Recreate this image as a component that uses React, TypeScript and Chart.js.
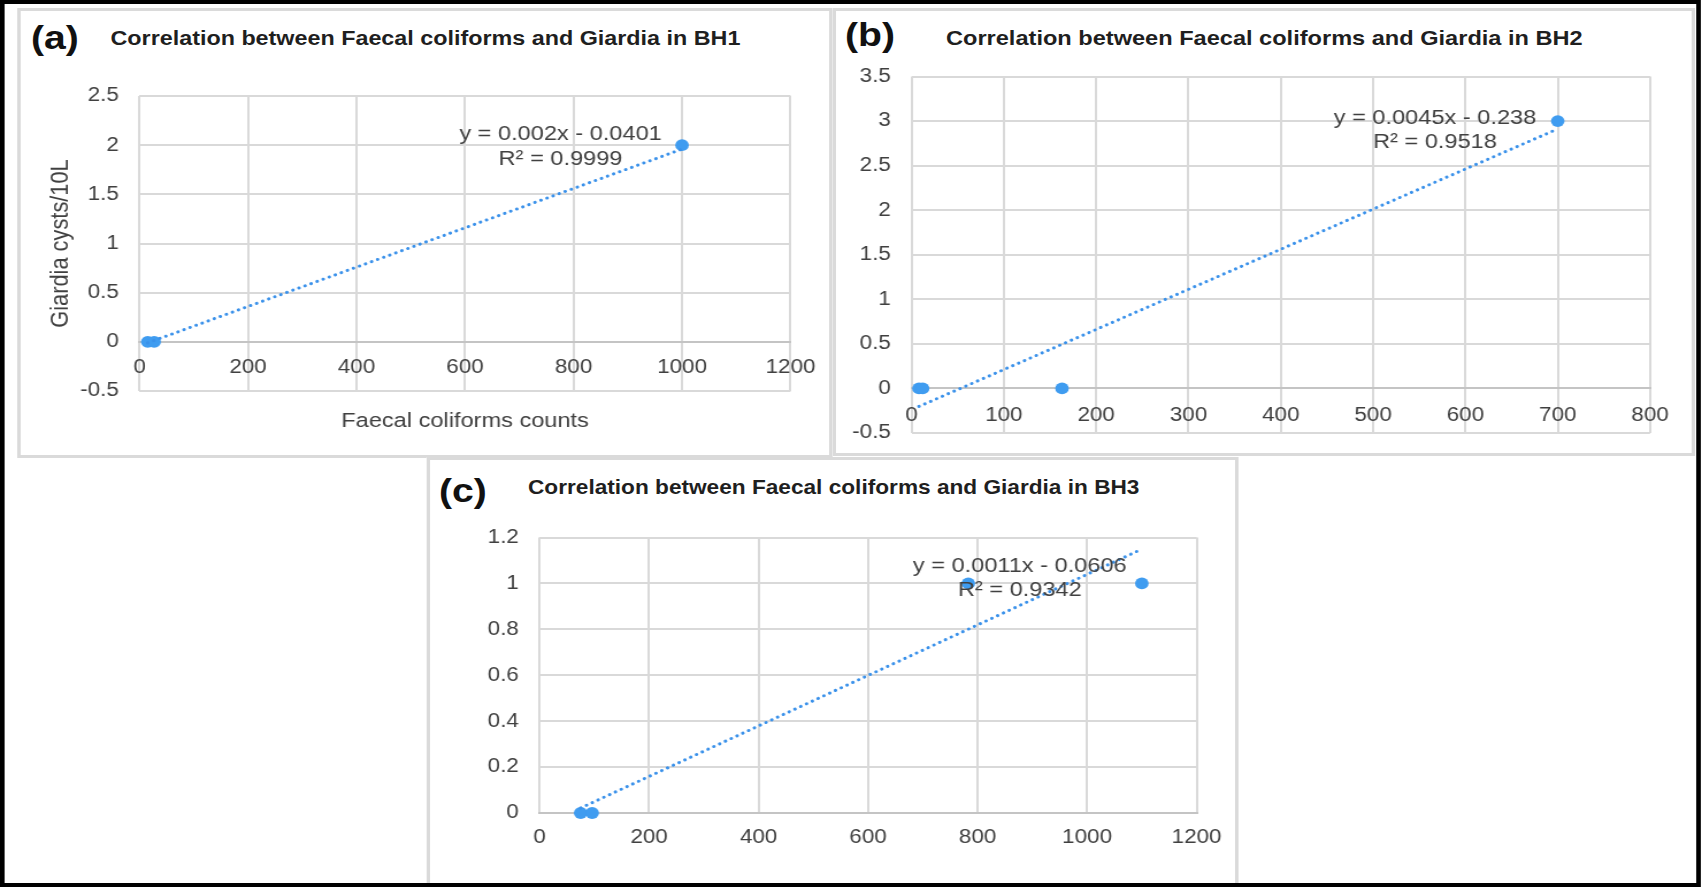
import React, { useEffect, useRef } from "react";
import { Chart, registerables } from "chart.js";

Chart.register(...registerables);

// ---------- data ----------
const bh1Coliforms = [15, 27, 1000];
const bh1Giardia = [0, 0, 2];
const bh1Fit = { slope: 0.002, intercept: -0.0401, r2: 0.9999 };
const bh1XTicks = [0, 200, 400, 600, 800, 1000, 1200];
const bh1YTicks = [-0.5, 0, 0.5, 1, 1.5, 2, 2.5];

const bh2Coliforms = [8, 12, 163, 700];
const bh2Giardia = [0, 0, 0, 3];
const bh2Fit = { slope: 0.0045, intercept: -0.238, r2: 0.9518 };
const bh2XTicks = [0, 100, 200, 300, 400, 500, 600, 700, 800];
const bh2YTicks = [-0.5, 0, 0.5, 1, 1.5, 2, 2.5, 3, 3.5];

const bh3Coliforms = [75, 96, 783, 1100];
const bh3Giardia = [0, 0, 1, 1];
const bh3Fit = { slope: 0.0011, intercept: -0.0606, r2: 0.9342 };
const bh3XTicks = [0, 200, 400, 600, 800, 1000, 1200];
const bh3YTicks = [0, 0.2, 0.4, 0.6, 0.8, 1, 1.2];

const panelLetters = ["(a)", "(b)", "(c)"];
const panelTitles = [
  "Correlation between Faecal coliforms and Giardia in BH1",
  "Correlation between Faecal coliforms and Giardia in BH2",
  "Correlation between Faecal coliforms and Giardia in BH3",
];
const xAxisTitle = "Faecal coliforms counts";
const yAxisTitle = "Giardia cysts/10L";

// ---------- styling ----------
const SX = 1.15; // the figure is drawn horizontally widened by this factor
const FONT = "'Liberation Sans', Arial, Helvetica, sans-serif";
const TICK_SIZE = 19.5;
const TEXT = "#404040";
const GRID = "#d9d9d9";
const AXIS_LINE = "#c4c4c4";
const MARKER = "#3f9cf0";
const TREND = "#3a91ea";
const PANEL_BORDER = "#dadada";
const AXIS_TITLE_SIZE = 20.5;
const Y_TITLE_SIZE = 21.8;
const EQ_SIZE = 20.5;
const EQ_GAP = 24.5;

type Fit = { slope: number; intercept: number; r2: number };

type PanelSpec = {
  letter: string;
  title: string;
  titleSize: number;
  xs: number[];
  ys: number[];
  fit: Fit;
  xTicks: number[];
  yTicks: number[];
  xAtZero: boolean;
  xTitle?: string;
  yTitle?: string;
  box: number[]; // page px: left, top, right, bottom
  canvas: number[]; // page px: left, top, width, height
  plot: number[]; // page px: left, top, right, bottom
  letterAt: number[];
  titleAt: number[];
  equationAt: number[]; // data units
  xLabelPad: number;
  yTitleX?: number;
  xTitleY?: number;
};

const panels: PanelSpec[] = [
  {
    letter: panelLetters[0],
    title: panelTitles[0],
    titleSize: 20.3,
    xs: bh1Coliforms,
    ys: bh1Giardia,
    fit: bh1Fit,
    xTicks: bh1XTicks,
    yTicks: bh1YTicks,
    xAtZero: true,
    xTitle: xAxisTitle,
    yTitle: yAxisTitle,
    box: [17, 8, 833, 458],
    canvas: [20, 11, 810, 475],
    plot: [140, 96, 791, 391],
    letterAt: [31, 37],
    titleAt: [110.5, 37.5],
    equationAt: [776, 2.108],
    xLabelPad: 14.5,
    yTitleX: 61,
    xTitleY: 421.5,
  },
  {
    letter: panelLetters[1],
    title: panelTitles[1],
    titleSize: 20.5,
    xs: bh2Coliforms,
    ys: bh2Giardia,
    fit: bh2Fit,
    xTicks: bh2XTicks,
    yTicks: bh2YTicks,
    xAtZero: true,
    box: [833, 8, 1695, 456],
    canvas: [836, 11, 856, 442],
    plot: [911.5, 76.5, 1650, 433],
    letterAt: [845, 34],
    titleAt: [946, 37.5],
    equationAt: [567, 3.034],
    xLabelPad: 15.3,
  },
  {
    letter: panelLetters[2],
    title: panelTitles[2],
    titleSize: 19.7,
    xs: bh3Coliforms,
    ys: bh3Giardia,
    fit: bh3Fit,
    xTicks: bh3XTicks,
    yTicks: bh3YTicks,
    xAtZero: false,
    box: [427, 457, 1239, 890],
    canvas: [430, 460, 806, 420],
    plot: [539.5, 537.5, 1196.5, 813],
    letterAt: [439, 489.5],
    titleAt: [528, 488],
    equationAt: [877, 1.076],
    xLabelPad: 13.3,
  },
];

function equationLines(fit: Fit): string[] {
  const sign = fit.intercept < 0 ? "-" : "+";
  return [
    `y = ${fit.slope}x ${sign} ${Math.abs(fit.intercept)}`,
    `R\u00B2 = ${fit.r2}`,
  ];
}

// Writes the trendline equation and R² centred on a point given in data units.
const equationLabel = {
  id: "equationLabel",
  afterDatasetsDraw(chart: any, _args: any, opts: any) {
    const { ctx, scales } = chart;
    const cx = scales.x.getPixelForValue(opts.x);
    const cy = scales.y.getPixelForValue(opts.y);
    ctx.save();
    ctx.font = `${EQ_SIZE}px ${FONT}`;
    ctx.fillStyle = TEXT;
    ctx.textAlign = "center";
    ctx.textBaseline = "middle";
    (opts.lines as string[]).forEach((t, i) => ctx.fillText(t, cx, cy + i * EQ_GAP));
    ctx.restore();
  },
};

function ScatterPanel({ spec }: { spec: PanelSpec }) {
  const ref = useRef<HTMLCanvasElement>(null);
  const [cl, ct, cw, ch] = spec.canvas;
  const localW = Math.round(cw / SX);

  useEffect(() => {
    const canvas = ref.current;
    if (!canvas) return;
    const [pl, pt, pr, pb] = spec.plot;
    const yMin = spec.yTicks[0];
    const yMax = spec.yTicks[spec.yTicks.length - 1];
    const xMin = spec.xTicks[0];
    const xMax = spec.xTicks[spec.xTicks.length - 1];

    const yTitleLH = Y_TITLE_SIZE * 1.2;
    const padLeft = spec.yTitle ? (spec.yTitleX! - cl) / SX - yTitleLH / 2 : 0;
    const yWidth = (pl - cl) / SX - padLeft;
    const padRight = localW - (pr - cl) / SX;
    const padTop = pt - ct;
    const xHeight = ct + ch - pb;
    // an axis pinned at y = 0 takes no room of its own, so the space goes in the padding
    const padBottom = spec.xAtZero ? xHeight : 0;

    const zeroPage = pt + ((yMax - 0) / (yMax - yMin)) * (pb - pt);
    const xTitleLH = AXIS_TITLE_SIZE * 1.2;
    const xTitlePadBottom = spec.xTitle
      ? zeroPage - ct + xHeight - xTitleLH / 2 - (spec.xTitleY! - ct)
      : 0;

    const points = spec.xs.map((x, i) => ({ x, y: spec.ys[i] }));
    const lo = Math.min(...spec.xs);
    const hi = Math.max(...spec.xs);
    const trend = [lo, hi].map((x) => ({ x, y: spec.fit.slope * x + spec.fit.intercept }));

    const tickFont = { family: FONT, size: TICK_SIZE };

    const chart = new Chart(canvas, {
      type: "scatter",
      data: {
        datasets: [
          {
            data: trend,
            showLine: true,
            borderColor: TREND,
            borderWidth: 3,
            borderDash: [0.1, 5.6],
            borderCapStyle: "round",
            pointRadius: 0,
            fill: false,
            clip: false,
            order: 0,
          } as any,
          {
            data: points,
            backgroundColor: MARKER,
            borderColor: MARKER,
            borderWidth: 0,
            pointRadius: 5.9,
            clip: false,
            order: 1,
          } as any,
        ],
      },
      options: {
        animation: false,
        responsive: false,
        events: [],
        layout: { padding: { left: padLeft, top: padTop, right: padRight, bottom: padBottom } },
        plugins: {
          legend: { display: false },
          tooltip: { enabled: false },
          title: { display: false },
          equationLabel: {
            x: spec.equationAt[0],
            y: spec.equationAt[1],
            lines: equationLines(spec.fit),
          },
        } as any,
        scales: {
          x: {
            type: "linear",
            min: xMin,
            max: xMax,
            position: spec.xAtZero ? ({ y: 0 } as any) : "bottom",
            afterBuildTicks: (axis: any) => {
              axis.ticks = spec.xTicks.map((value) => ({ value }));
            },
            afterFit: (axis: any) => {
              axis.height = xHeight;
              axis.paddingLeft = 0;
              axis.paddingRight = 0;
            },
            grid: { color: GRID, lineWidth: 2, drawTicks: false },
            border: { display: true, color: AXIS_LINE, width: 2 },
            ticks: {
              font: tickFont,
              color: TEXT,
              padding: spec.xLabelPad,
              autoSkip: false,
              maxRotation: 0,
              callback: (v: any) => String(v),
            },
            title: spec.xTitle
              ? {
                  display: true,
                  text: spec.xTitle,
                  color: TEXT,
                  font: { family: FONT, size: AXIS_TITLE_SIZE },
                  padding: { top: 0, bottom: xTitlePadBottom },
                }
              : { display: false },
          },
          y: {
            type: "linear",
            min: yMin,
            max: yMax,
            afterBuildTicks: (axis: any) => {
              axis.ticks = spec.yTicks.map((value) => ({ value }));
            },
            afterFit: (axis: any) => {
              axis.width = yWidth;
              axis.paddingTop = 0;
              axis.paddingBottom = 0;
            },
            grid: { color: GRID, lineWidth: 2, drawTicks: false },
            border: { display: false },
            ticks: {
              font: tickFont,
              color: TEXT,
              padding: 18,
              autoSkip: false,
              callback: (v: any) => String(v),
            },
            title: spec.yTitle
              ? {
                  display: true,
                  text: spec.yTitle,
                  color: TEXT,
                  font: { family: FONT, size: Y_TITLE_SIZE },
                  padding: { top: 0, bottom: 0 },
                }
              : { display: false },
          },
        },
      },
      plugins: [equationLabel],
    });
    return () => chart.destroy();
  }, [spec]);

  return (
    <canvas
      ref={ref}
      width={localW}
      height={ch}
      style={{ position: "absolute", left: cl / SX, top: ct }}
    />
  );
}

function PanelFrame({ spec }: { spec: PanelSpec }) {
  const [l, t, r, b] = spec.box;
  return (
    <div
      style={{
        position: "absolute",
        left: l / SX,
        top: t,
        width: (r - l) / SX,
        height: b - t,
        boxSizing: "border-box",
        border: `3px solid ${PANEL_BORDER}`,
        background: "#fff",
      }}
    />
  );
}

function PanelText({ spec }: { spec: PanelSpec }) {
  return (
    <>
      <div
        style={{
          position: "absolute",
          left: spec.letterAt[0] / SX,
          top: spec.letterAt[1],
          transform: "translateY(-50%)",
          font: `bold 34px ${FONT}`,
          lineHeight: 1,
          color: "#111",
          whiteSpace: "nowrap",
        }}
      >
        {spec.letter}
      </div>
      <div
        style={{
          position: "absolute",
          left: spec.titleAt[0] / SX,
          top: spec.titleAt[1],
          transform: "translateY(-50%)",
          font: `bold ${spec.titleSize}px ${FONT}`,
          lineHeight: 1,
          color: "#1f1f1f",
          whiteSpace: "nowrap",
        }}
      >
        {spec.title}
      </div>
    </>
  );
}

export default function App() {
  return (
    <div
      style={{
        position: "fixed",
        left: 0,
        top: 0,
        width: 1701 / SX,
        height: 887,
        transform: `scaleX(${SX})`,
        transformOrigin: "0 0",
        background: "#fff",
        overflow: "hidden",
      }}
    >
      {panels.map((p, i) => (
        <PanelFrame key={`f${i}`} spec={p} />
      ))}
      {panels.map((p, i) => (
        <PanelText key={`t${i}`} spec={p} />
      ))}
      {panels.map((p, i) => (
        <ScatterPanel key={`c${i}`} spec={p} />
      ))}
      <div
        style={{
          position: "absolute",
          left: 0,
          top: 0,
          width: 1701 / SX,
          height: 887,
          boxSizing: "border-box",
          borderStyle: "solid",
          borderColor: "#000",
          borderWidth: `4px ${5.5 / SX}px`,
          pointerEvents: "none",
        }}
      />
    </div>
  );
}
